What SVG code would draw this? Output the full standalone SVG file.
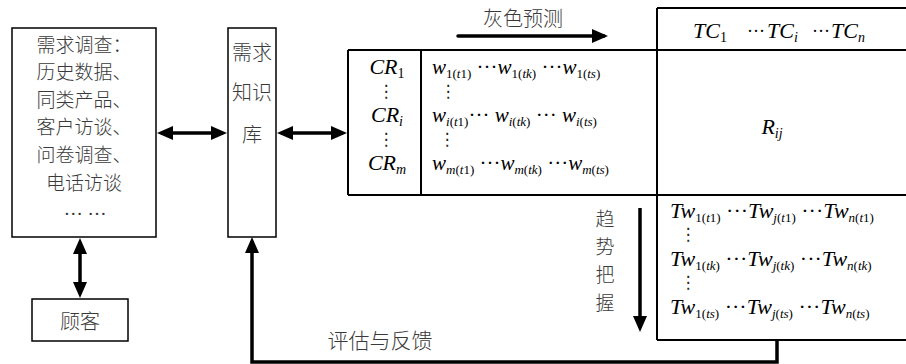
<svg xmlns="http://www.w3.org/2000/svg" width="906" height="364" viewBox="0 0 906 364">
<defs>
<style>
.box{fill:#fff;stroke:#000;stroke-width:1.5}
.mx{fill:none;stroke:#000;stroke-width:2}
.cn{fill:none;stroke:#000;stroke-width:3.5}
.zh{font-family:"Noto Sans CJK SC","Noto Sans",sans-serif;font-size:19px;font-weight:300;fill:#3a3a3a;text-anchor:middle}
.m{font-family:"Liberation Serif","Times New Roman",serif;font-style:italic;font-size:21px;fill:#000}
.u{font-style:normal}
.s{font-size:13px}
.vd{font-family:"DejaVu Sans",sans-serif;font-size:17px;fill:#222;text-anchor:middle}
</style>
<marker id="ah" viewBox="0 0 16 14" refX="12" refY="7" markerWidth="16" markerHeight="14" markerUnits="userSpaceOnUse" orient="auto-start-reverse">
<path d="M0,0 L16,7 L0,14 z" fill="#000"/>
</marker>
</defs>
<rect width="906" height="364" fill="#fff"/>

<g id="survey">
<rect class="box" x="12" y="28" width="144" height="209"/>
<text class="zh" x="84" y="52">需求调查：</text>
<text class="zh" x="84" y="79">历史数据、</text>
<text class="zh" x="84" y="107">同类产品、</text>
<text class="zh" x="84" y="134">客户访谈、</text>
<text class="zh" x="84" y="162">问卷调查、</text>
<text class="zh" x="84" y="190">电话访谈</text>
<text x="85" y="215" style="font-family:'Liberation Serif',serif;font-size:19px;fill:#333;text-anchor:middle">… …</text>
</g>

<g id="customer">
<rect class="box" x="32" y="299" width="96" height="42"/>
<text class="zh" x="80" y="329" style="font-size:20px">顾客</text>
</g>

<g id="kb">
<rect class="box" x="228" y="28" width="48" height="209"/>
<text class="zh" x="252" y="60" style="font-size:20px">需求</text>
<text class="zh" x="252" y="100" style="font-size:20px">知识</text>
<text class="zh" x="252" y="142" style="font-size:20px">库</text>
</g>

<g id="matrix">
<path class="mx" d="M348,50 H906 M348,195 H906 M348,50 V195 M421,50 V195 M657,8 V340 M657,8 H906 M657,340 H906"/>
<text class="m" x="387" y="74" text-anchor="middle" style="font-size:22px">CR<tspan class="u s" style="font-size:14px" dy="4">1</tspan></text>
<text class="vd" x="386" y="97">⋮</text>
<text class="m" x="387" y="122" text-anchor="middle" style="font-size:22px">CR<tspan style="font-size:14px" dy="4">i</tspan></text>
<text class="vd" x="386" y="145">⋮</text>
<text class="m" x="387" y="170" text-anchor="middle" style="font-size:22px">CR<tspan style="font-size:14px" dy="4">m</tspan></text>

<text class="m" x="432" y="74">w<tspan class="s u" dy="4">1(<tspan style="font-style:italic">t</tspan>1)</tspan><tspan class="u" dy="-4"> ···</tspan>w<tspan class="s u" dy="4">1(<tspan style="font-style:italic">tk</tspan>)</tspan><tspan class="u" dy="-4"> ···</tspan>w<tspan class="s u" dy="4">1(<tspan style="font-style:italic">ts</tspan>)</tspan></text>
<text class="vd" x="448" y="97">⋮</text>
<text class="m" x="432" y="122">w<tspan class="s" dy="4">i<tspan class="u">(</tspan>t<tspan class="u">1)</tspan></tspan><tspan class="u" dy="-4">··· </tspan>w<tspan class="s" dy="4">i<tspan class="u">(</tspan>tk<tspan class="u">)</tspan></tspan><tspan class="u" dy="-4"> ··· </tspan>w<tspan class="s" dy="4">i<tspan class="u">(</tspan>ts<tspan class="u">)</tspan></tspan></text>
<text class="vd" x="447" y="145">⋮</text>
<text class="m" x="432" y="170">w<tspan class="s" dy="4">m<tspan class="u">(</tspan>t<tspan class="u">1)</tspan></tspan><tspan class="u" dy="-4"> ···</tspan>w<tspan class="s" dy="4">m<tspan class="u">(</tspan>tk<tspan class="u">)</tspan></tspan><tspan class="u" dy="-4"> ···</tspan>w<tspan class="s" dy="4">m<tspan class="u">(</tspan>ts<tspan class="u">)</tspan></tspan></text>

<text class="m" y="38" style="font-size:22px"><tspan x="693">TC</tspan><tspan class="u" style="font-size:14px" dy="4">1</tspan><tspan class="u" style="font-size:18px" x="747" dy="-5">···</tspan><tspan x="767" dy="1">TC</tspan><tspan style="font-size:14px" dy="4">i</tspan><tspan class="u" style="font-size:18px" x="812" dy="-5">···</tspan><tspan x="831" dy="1">TC</tspan><tspan style="font-size:14px" dy="4">n</tspan></text>

<text class="m" x="772" y="134" text-anchor="middle" style="font-size:22px">R<tspan style="font-size:14px" dy="4">ij</tspan></text>

<text class="m" x="670" y="218" style="font-size:22px">Tw<tspan class="s u" dy="4">1(<tspan style="font-style:italic">t</tspan>1)</tspan><tspan class="u" dy="-4"> ···</tspan>Tw<tspan class="s" dy="4">j<tspan class="u">(</tspan>t<tspan class="u">1)</tspan></tspan><tspan class="u" dy="-4"> ···</tspan>Tw<tspan class="s" dy="4">n<tspan class="u">(</tspan>t<tspan class="u">1)</tspan></tspan></text>
<text class="vd" x="688" y="240">⋮</text>
<text class="m" x="670" y="266" style="font-size:22px">Tw<tspan class="s u" dy="4">1(<tspan style="font-style:italic">tk</tspan>)</tspan><tspan class="u" dy="-4"> ···</tspan>Tw<tspan class="s" dy="4">j<tspan class="u">(</tspan>tk<tspan class="u">)</tspan></tspan><tspan class="u" dy="-4"> ···</tspan>Tw<tspan class="s" dy="4">n<tspan class="u">(</tspan>tk<tspan class="u">)</tspan></tspan></text>
<text class="vd" x="688" y="288">⋮</text>
<text class="m" x="670" y="314" style="font-size:22px">Tw<tspan class="s u" dy="4">1(<tspan style="font-style:italic">ts</tspan>)</tspan><tspan class="u" dy="-4"> ···</tspan>Tw<tspan class="s" dy="4">j<tspan class="u">(</tspan>ts<tspan class="u">)</tspan></tspan><tspan class="u" dy="-4"> ···</tspan>Tw<tspan class="s" dy="4">n<tspan class="u">(</tspan>ts<tspan class="u">)</tspan></tspan></text>
</g>

<g id="connectors">
<line class="cn" x1="161" y1="133" x2="223" y2="133" marker-start="url(#ah)" marker-end="url(#ah)"/>
<line class="cn" x1="281" y1="133" x2="343" y2="133" marker-start="url(#ah)" marker-end="url(#ah)"/>
<line class="cn" x1="80" y1="242" x2="80" y2="294" marker-start="url(#ah)" marker-end="url(#ah)"/>
<line class="cn" x1="458" y1="36" x2="604" y2="36" stroke-linecap="round" marker-end="url(#ah)"/>
<line class="cn" x1="640" y1="208" x2="640" y2="328" marker-end="url(#ah)"/>
<path class="cn" d="M777,340 V362 H252 V241" marker-end="url(#ah)"/>
<text class="zh" x="523" y="26" style="font-size:20px">灰色预测</text>
<text class="zh" x="605" y="226">趋</text>
<text class="zh" x="605" y="254">势</text>
<text class="zh" x="605" y="282">把</text>
<text class="zh" x="605" y="310">握</text>
<text class="zh" x="380" y="348" style="font-size:21px">评估与反馈</text>
</g>
</svg>
